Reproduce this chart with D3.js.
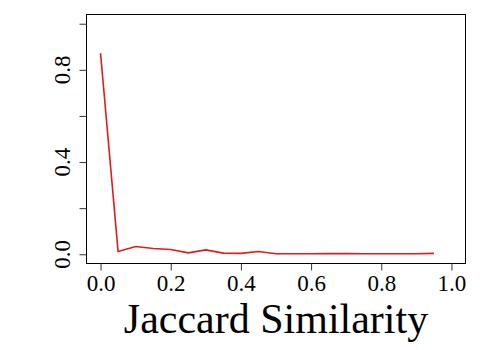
<!DOCTYPE html>
<html><head><meta charset="utf-8">
<script src="https://cdn.jsdelivr.net/npm/d3@7"></script>
<style>html,body{margin:0;padding:0;background:#fff;} svg text{font-family:"Liberation Serif","Times New Roman",serif !important;}</style>
</head><body>
<script>
const xValues = [0,0.05,0.1,0.15,0.2,0.25,0.3,0.35,0.4,0.45,0.5,0.55,0.6,0.65,0.7,0.75,0.8,0.85,0.9,0.95];
const yValues = [0.872,0.012,0.034,0.025,0.021,0.006,0.019,0.005,0.004,0.012,0.002,0.002,0.002,0.003,0.003,0.002,0.002,0.002,0.002,0.004];
const xTicks = [0,0.2,0.4,0.6,0.8,1.0];
const yTicks = [0,0.2,0.4,0.6,0.8,1.0];
const yLabelTicks = [0,0.4,0.8];
const xTitle = "Jaccard Similarity";

const W=480,H=350;
const svg=d3.select("body").append("svg").attr("width",W).attr("height",H);
const box={l:86.5,r:465.5,t:14.5,b:263.5};
const x=d3.scaleLinear().domain([-0.04,1.04]).range([box.l,box.r]);
const y=d3.scaleLinear().domain([-0.04,1.04]).range([box.b,box.t]);

svg.append("rect").attr("x",box.l).attr("y",box.t).attr("width",box.r-box.l).attr("height",box.b-box.t)
  .attr("fill","none").attr("stroke","#000").attr("stroke-width",1);

const xAxis=d3.axisBottom(x).tickValues(xTicks).tickSize(7).tickPadding(4).tickFormat(d3.format(".1f"));
const gx=svg.append("g").attr("transform",`translate(0,${box.b})`).call(xAxis);
gx.select(".domain").remove();
gx.selectAll("line").attr("stroke","#333");
gx.selectAll("text").style("font-size","23px").attr("fill","#000");

const yAxis=d3.axisLeft(y).tickValues(yTicks).tickSize(7).tickFormat(()=>"");
const gy=svg.append("g").attr("transform",`translate(${box.l},0)`).call(yAxis);
gy.select(".domain").remove();
gy.selectAll("line").attr("stroke","#333");

svg.selectAll("text.ylab").data(yLabelTicks).enter().append("text").attr("class","ylab")
  .attr("transform",d=>`translate(70,${y(d)}) rotate(-90)`)
  .attr("text-anchor","middle").style("font-size","23px").attr("fill","#000")
  .text(d=>d3.format(".1f")(d));

svg.append("text").attr("x",(box.l+box.r)/2).attr("y",333).attr("text-anchor","middle")
  .style("font-size","42px").attr("fill","#000").text(xTitle);

const line=d3.line().x((d,i)=>x(xValues[i])).y(d=>y(d));
svg.append("path").datum(yValues).attr("d",line).attr("fill","none").attr("stroke","#dd1c1c").attr("stroke-width",1.6);
</script>
</body></html>
